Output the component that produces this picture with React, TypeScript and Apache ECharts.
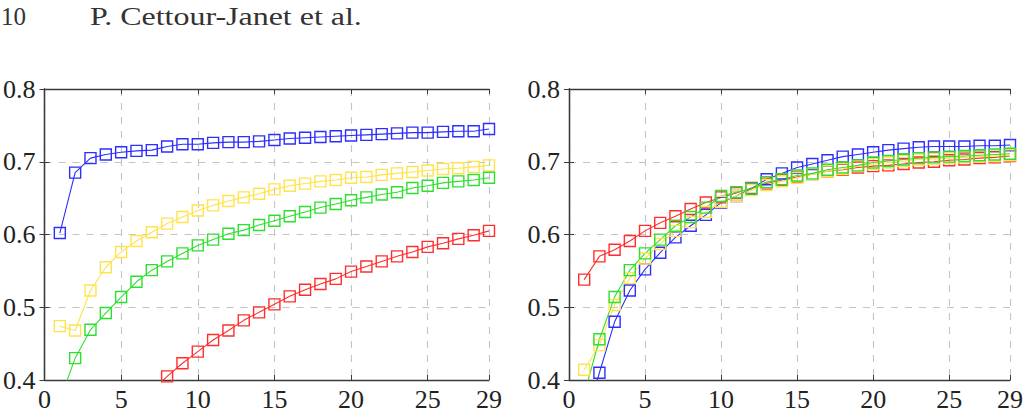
import React, { useEffect, useRef } from "react";
import * as echarts from "echarts";

// Iteration index shared by every curve
const steps: number[] = Array.from({ length: 29 }, (_, i) => i + 1);

const xTickLabels = ["0", "5", "10", "15", "20", "25", "29"];
const yTickLabels = ["0.4", "0.5", "0.6", "0.7", "0.8"];

// Left panel
const leftBlue = [0.602, 0.685, 0.705, 0.71, 0.713, 0.715, 0.716, 0.721, 0.724, 0.724, 0.726, 0.727, 0.727, 0.728, 0.73, 0.732, 0.733, 0.734, 0.735, 0.736, 0.737, 0.738, 0.739, 0.74, 0.74, 0.741, 0.742, 0.742, 0.745];
const leftYellow = [0.474, 0.468, 0.523, 0.555, 0.576, 0.591, 0.603, 0.615, 0.624, 0.633, 0.64, 0.646, 0.651, 0.656, 0.662, 0.667, 0.67, 0.673, 0.675, 0.678, 0.679, 0.682, 0.684, 0.686, 0.688, 0.69, 0.691, 0.693, 0.695];
const leftGreen = [0.372, 0.43, 0.469, 0.492, 0.514, 0.535, 0.551, 0.563, 0.574, 0.585, 0.593, 0.601, 0.606, 0.613, 0.619, 0.625, 0.631, 0.637, 0.642, 0.647, 0.651, 0.655, 0.658, 0.664, 0.667, 0.671, 0.673, 0.675, 0.678];
const leftRed = [null, null, null, null, null, null, 0.385, 0.405, 0.423, 0.439, 0.455, 0.468, 0.482, 0.493, 0.504, 0.515, 0.524, 0.532, 0.539, 0.549, 0.556, 0.563, 0.57, 0.576, 0.583, 0.588, 0.594, 0.599, 0.605];

// Right panel
const rightBlue = [0.338, 0.41, 0.48, 0.523, 0.552, 0.575, 0.596, 0.612, 0.627, 0.644, 0.653, 0.663, 0.676, 0.684, 0.692, 0.697, 0.702, 0.707, 0.71, 0.713, 0.716, 0.718, 0.72, 0.721, 0.721, 0.721, 0.722, 0.722, 0.723];
const rightYellow = [0.414, 0.448, 0.503, 0.54, 0.567, 0.587, 0.605, 0.617, 0.631, 0.645, 0.653, 0.661, 0.668, 0.673, 0.678, 0.683, 0.687, 0.69, 0.694, 0.697, 0.699, 0.701, 0.703, 0.704, 0.705, 0.706, 0.707, 0.708, 0.709];
const rightGreen = [0.38, 0.456, 0.514, 0.551, 0.574, 0.593, 0.612, 0.624, 0.637, 0.653, 0.658, 0.663, 0.672, 0.676, 0.681, 0.684, 0.689, 0.692, 0.695, 0.699, 0.701, 0.703, 0.705, 0.706, 0.707, 0.708, 0.709, 0.71, 0.711];
const rightRed = [0.538, 0.57, 0.579, 0.591, 0.605, 0.616, 0.625, 0.635, 0.644, 0.651, 0.657, 0.664, 0.67, 0.675, 0.679, 0.683, 0.687, 0.689, 0.692, 0.694, 0.695, 0.697, 0.699, 0.7, 0.702, 0.703, 0.705, 0.706, 0.708];

const BLUE = "#2e2eff";
const YELLOW = "#ffe34d";
const GREEN = "#2ee02e";
const RED = "#ff2e2e";

const FONT = "'Liberation Serif', 'DejaVu Serif', serif";
const FRAME = "#3a3a3a";
const LABEL_SIZE = 26;

function pairs(values: (number | null)[]) {
  const out: [number, number][] = [];
  values.forEach((v, i) => {
    if (v !== null) out.push([steps[i], v]);
  });
  return out;
}

function curve(values: (number | null)[], color: string, axisIndex: number) {
  return {
    type: "line",
    xAxisIndex: axisIndex,
    yAxisIndex: axisIndex,
    data: pairs(values),
    clip: true,
    symbol: "rect",
    symbolSize: 11,
    showAllSymbol: true,
    itemStyle: { color: "transparent", borderColor: color, borderWidth: 1.4 },
    lineStyle: { color, width: 1.1 },
    emphasis: { disabled: true },
  };
}

function bottomAxis(gridIndex: number) {
  return {
    type: "value",
    gridIndex,
    position: "bottom",
    min: 0,
    max: 29,
    interval: 5,
    axisLine: { show: true, lineStyle: { color: FRAME, width: 1.3 } },
    axisTick: { show: true, inside: true, length: 5, lineStyle: { color: FRAME } },
    axisLabel: {
      show: true,
      margin: 6,
      fontFamily: FONT,
      fontSize: LABEL_SIZE,
      color: "#222",
      formatter: (v: number) => (xTickLabels.includes(String(v)) ? String(v) : ""),
    },
    splitLine: { show: true, lineStyle: { color: "#c4c4c4", width: 1.1, type: [7, 7] } },
  };
}

function topAxis(gridIndex: number) {
  return {
    type: "value",
    gridIndex,
    position: "top",
    min: 0,
    max: 29,
    interval: 5,
    axisLine: { show: true, lineStyle: { color: FRAME, width: 1.3 } },
    axisTick: { show: true, inside: true, length: 5, lineStyle: { color: FRAME } },
    axisLabel: { show: false },
    splitLine: { show: false },
  };
}

function leftAxis(gridIndex: number) {
  return {
    type: "value",
    gridIndex,
    position: "left",
    min: 0.4,
    max: 0.8,
    interval: 0.1,
    axisLine: { show: true, lineStyle: { color: FRAME, width: 1.3 } },
    axisTick: { show: true, inside: true, length: 5, lineStyle: { color: FRAME } },
    axisLabel: {
      show: true,
      margin: 9,
      fontFamily: FONT,
      fontSize: LABEL_SIZE,
      color: "#222",
      formatter: (v: number) => {
        const s = v.toFixed(1);
        return yTickLabels.includes(s) ? s : "";
      },
    },
    splitLine: { show: true, lineStyle: { color: "#c4c4c4", width: 1.1, type: [7, 7] } },
  };
}

function rightAxis(gridIndex: number) {
  return {
    type: "value",
    gridIndex,
    position: "right",
    min: 0.4,
    max: 0.8,
    interval: 0.1,
    axisLine: { show: true, lineStyle: { color: FRAME, width: 1.3 } },
    axisTick: { show: true, inside: true, length: 5, lineStyle: { color: FRAME } },
    axisLabel: { show: false },
    splitLine: { show: false },
  };
}

export default function App() {
  const ref = useRef<HTMLDivElement>(null);

  useEffect(() => {
    if (!ref.current) return;
    const chart = echarts.init(ref.current, undefined, { renderer: "svg" });
    chart.setOption({
      animation: false,
      backgroundColor: "#ffffff",
      grid: [
        { left: 44, top: 89, width: 445, height: 291, containLabel: false },
        { left: 569, top: 89, width: 444, height: 291, containLabel: false },
      ],
      xAxis: [bottomAxis(0), topAxis(0), bottomAxis(1), topAxis(1)],
      yAxis: [leftAxis(0), rightAxis(0), leftAxis(1), rightAxis(1)],
      series: [
        curve(leftBlue, BLUE, 0),
        curve(leftYellow, YELLOW, 0),
        curve(leftGreen, GREEN, 0),
        curve(leftRed, RED, 0),
        curve(rightRed, RED, 2),
        curve(rightBlue, BLUE, 2),
        curve(rightYellow, YELLOW, 2),
        curve(rightGreen, GREEN, 2),
      ],
      graphic: [
        {
          type: "text",
          x: 1,
          y: 16,
          style: { text: "10", font: `25px ${FONT}`, fill: "#333", align: "left", verticalAlign: "middle" },
        },
        {
          type: "text",
          x: 90,
          y: 16,
          scaleX: 1.23,
          style: { text: "P. Cettour-Janet et al.", font: `26px ${FONT}`, fill: "#333", align: "left", verticalAlign: "middle" },
        },
      ],
    });
    return () => chart.dispose();
  }, []);

  return (
    <div
      ref={ref}
      style={{ position: "fixed", left: 0, top: 0, width: 1026, height: 414, background: "#fff" }}
    />
  );
}
